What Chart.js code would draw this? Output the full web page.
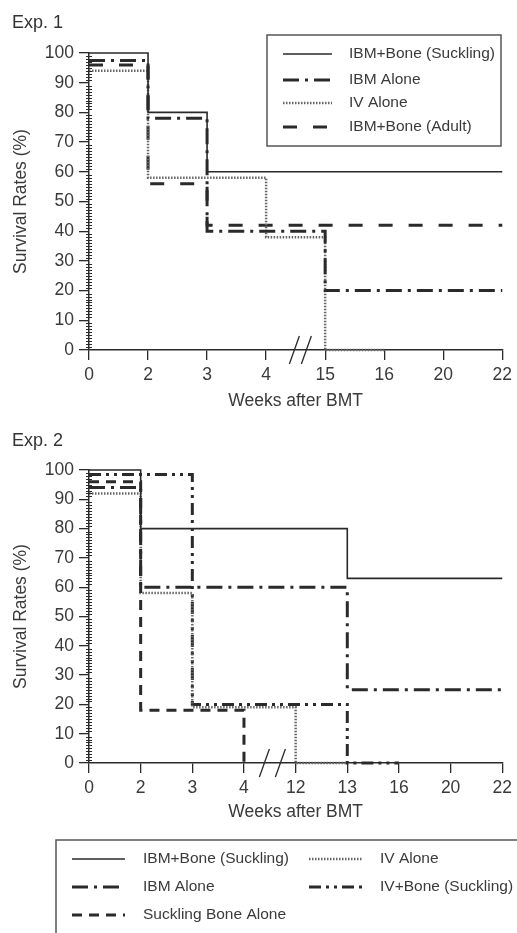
<!DOCTYPE html>
<html>
<head>
<meta charset="utf-8">
<script src="https://cdn.jsdelivr.net/npm/chart.js@4.4.0/dist/chart.umd.min.js"></script>
<style>
  body { margin: 0; background: #fff; width: 517px; height: 933px; overflow: hidden; font-family: "Liberation Sans", Arial, sans-serif; }
  .wrap { position: absolute; left: 0; width: 517px; }
  #w1 { top: 0; height: 420px; }
  #w2 { top: 420px; height: 513px; }
  .exp { position: absolute; left: 12px; font-size: 18px; color: #333; line-height: 20px; }
</style>
</head>
<body>
<div class="wrap" id="w1"><canvas id="c1"></canvas></div>
<div class="wrap" id="w2"><canvas id="c2"></canvas></div>
<div class="exp" style="top:12px">Exp. 1</div>
<div class="exp" style="top:430px">Exp. 2</div>
<script>
// ----- DATA -----
// x axis is broken, so the week labels sit at equal steps
const exp1Weeks = [0, 2, 3, 4, 15, 16, 20, 22]
const exp2Weeks = [0, 2, 3, 4, 12, 13, 16, 20, 22]
const survivalTicks = [0, 10, 20, 30, 40, 50, 60, 70, 80, 90, 100]

// Exp. 1: week where each step starts, survival (%) from then on
const e1SucklingWk = [0, 2, 3, 22]
const e1SucklingPct = [100, 80, 60, 60]
const e1IbmWk = [0, 2, 3, 15, 22]
const e1IbmPct = [97.5, 78, 40, 20, 20]
const e1IvWk = [0, 2, 4, 15, 16]
const e1IvPct = [94, 58, 38, 0, 0]
const e1AdultWk = [0, 2, 3, 22]
const e1AdultPct = [96, 56, 42, 42]

// Exp. 2
const e2SucklingWk = [0, 2, 13, 22]
const e2SucklingPct = [100, 80, 63, 63]
const e2IbmWk = [0, 2, 13, 22]
const e2IbmPct = [94, 60, 25, 25]
const e2IvWk = [0, 2, 3, 12, 13]
const e2IvPct = [92, 58, 19, 0, 0]
const e2IvBoneWk = [0, 3, 13, 16]
const e2IvBonePct = [98.5, 20, 0, 0]
const e2BoneWk = [0, 2, 4]
const e2BonePct = [96, 18, 0]

// ----- STYLES -----
const INK = '#2a2a2a'
const TEXT = '#3a3a3a'
const FONT = '"Liberation Sans", Arial, sans-serif'
const lineStyles = {
  solid:   { borderColor: INK, borderWidth: 1.6, borderDash: [] },
  dashDot: { borderColor: INK, borderWidth: 3, borderDash: [16, 6, 3, 6] },
  dotted:  { borderColor: '#666', borderWidth: 2.5, borderDash: [1.5, 1.5] },
  dashed:  { borderColor: INK, borderWidth: 3, borderDash: [14, 16] },
  dashDotDot: { borderColor: INK, borderWidth: 3, borderDash: [12, 5, 3, 5, 3, 5] },
  shortDash: { borderColor: INK, borderWidth: 3, borderDash: [10, 7] },
}

function series(label, weeks, wk, pct, style) {
  return {
    label,
    data: wk.map((w, i) => ({ x: weeks.indexOf(w), y: pct[i] })),
    stepped: true,
    fill: false,
    pointRadius: 0,
    clip: false,
    borderCapStyle: 'butt',
    ...lineStyles[style],
  }
}

// ----- PLUGIN: minor ticks, axis break, legend box -----
const extras = {
  id: 'extras',
  afterDraw(chart, args, o) {
    const ctx = chart.ctx
    const xs = chart.scales.x
    const ys = chart.scales.y
    ctx.save()
    ctx.strokeStyle = INK
    ctx.lineWidth = 1
    for (let v = 1; v < 100; v++) {
      if (v % 10 === 0) continue
      const py = Math.round(ys.getPixelForValue(v)) + 0.5
      ctx.beginPath()
      ctx.moveTo(xs.left - 3, py)
      ctx.lineTo(xs.left + 3, py)
      ctx.stroke()
    }

    // the // break on the x axis
    const bx = xs.getPixelForValue(o.breakAt)
    const by = ys.bottom
    ctx.lineWidth = 1.3
    ;[-o.breakGap, o.breakGap].forEach((dx) => {
      ctx.beginPath()
      ctx.moveTo(bx + dx - 5, by + 14)
      ctx.lineTo(bx + dx + 5, by - 14)
      ctx.stroke()
    })

    // legend
    const L = o.legend
    ctx.strokeStyle = '#555'
    ctx.lineWidth = 1.5
    ctx.strokeRect(L.box[0], L.box[1], L.box[2] - L.box[0], L.box[3] - L.box[1])
    ctx.font = '15.5px ' + FONT
    ctx.fillStyle = TEXT
    ctx.textBaseline = 'middle'
    L.items.forEach((it) => {
      const ds = chart.data.datasets[it.ds]
      ctx.strokeStyle = ds.borderColor
      ctx.lineWidth = ds.borderWidth
      ctx.setLineDash(ds.borderDash)
      ctx.beginPath()
      ctx.moveTo(it.x, it.y)
      ctx.lineTo(it.x + L.lineLen, it.y)
      ctx.stroke()
      ctx.setLineDash([])
      ctx.fillText(ds.label, it.x + L.textOff, it.y)
    })
    ctx.restore()
  },
}

function makeChart(id, weeks, datasets, cfg) {
  return new Chart(document.getElementById(id), {
    type: 'line',
    data: { datasets },
    plugins: [extras],
    options: {
      responsive: true,
      maintainAspectRatio: false,
      animation: false,
      layout: { padding: cfg.padding },
      plugins: {
        legend: { display: false },
        tooltip: { enabled: false },
        extras: cfg.extras,
      },
      scales: {
        x: {
          type: 'linear',
          min: 0,
          max: weeks.length - 1,
          afterFit: (s) => { s.height = cfg.xHeight },
          afterBuildTicks: (s) => { s.ticks = weeks.map((w, i) => ({ value: i })) },
          ticks: {
            callback: (v) => weeks[v],
            color: TEXT,
            font: { family: FONT, size: 17.5 },
            padding: 5,
            maxRotation: 0,
          },
          grid: { drawOnChartArea: false, drawTicks: true, tickLength: 10, color: INK, lineWidth: 1.3 },
          border: { color: INK, width: 1.5 },
          title: {
            display: true,
            text: 'Weeks after BMT',
            color: TEXT,
            font: { family: FONT, size: 17.5 },
            padding: { top: 0, bottom: cfg.xTitlePad },
          },
        },
        y: {
          min: 0,
          max: 100,
          afterFit: (s) => { s.width = 89 },
          afterBuildTicks: (s) => { s.ticks = survivalTicks.map((v) => ({ value: v })) },
          ticks: { color: TEXT, font: { family: FONT, size: 17.5 }, padding: 5 },
          grid: { drawOnChartArea: false, drawTicks: true, tickLength: 10, color: INK, lineWidth: 1.3 },
          border: { color: INK, width: 1.5 },
          title: {
            display: true,
            text: 'Survival Rates (%)',
            color: TEXT,
            font: { family: FONT, size: 17.5 },
            padding: { top: 11, bottom: 0 },
          },
        },
      },
    },
  })
}

// ----- EXP. 1 -----
makeChart('c1', exp1Weeks, [
  series('IBM+Bone (Suckling)', exp1Weeks, e1SucklingWk, e1SucklingPct, 'solid'),
  series('IBM Alone', exp1Weeks, e1IbmWk, e1IbmPct, 'dashDot'),
  series('IV Alone', exp1Weeks, e1IvWk, e1IvPct, 'dotted'),
  series('IBM+Bone (Adult)', exp1Weeks, e1AdultWk, e1AdultPct, 'dashed'),
], {
  padding: { top: 53, right: 11, left: 0, bottom: 0 },
  xHeight: 70,
  xTitlePad: 8,
  extras: {
    breakAt: 3.58,
    breakGap: 6,
    legend: {
      box: [267, 35, 501, 146],
      lineLen: 49,
      textOff: 66,
      items: [
        { ds: 0, x: 283, y: 54 },
        { ds: 1, x: 283, y: 80 },
        { ds: 2, x: 283, y: 103 },
        { ds: 3, x: 283, y: 127 },
      ],
    },
  },
})

// ----- EXP. 2 -----
makeChart('c2', exp2Weeks, [
  series('IBM+Bone (Suckling)', exp2Weeks, e2SucklingWk, e2SucklingPct, 'solid'),
  series('IBM Alone', exp2Weeks, e2IbmWk, e2IbmPct, 'dashDot'),
  series('Suckling Bone Alone', exp2Weeks, e2BoneWk, e2BonePct, 'shortDash'),
  series('IV Alone', exp2Weeks, e2IvWk, e2IvPct, 'dotted'),
  series('IV+Bone (Suckling)', exp2Weeks, e2IvBoneWk, e2IvBonePct, 'dashDotDot'),
], {
  padding: { top: 50, right: 11, left: 0, bottom: 98 },
  xHeight: 72,
  xTitlePad: 12,
  extras: {
    breakAt: 3.55,
    breakGap: 8,
    legend: {
      box: [56, 420, 560, 560],
      lineLen: 53,
      textOff: 71,
      items: [
        { ds: 0, x: 72, y: 439 },
        { ds: 1, x: 72, y: 467 },
        { ds: 2, x: 72, y: 495 },
        { ds: 3, x: 309, y: 439 },
        { ds: 4, x: 309, y: 467 },
      ],
    },
  },
})
</script>
</body>
</html>
